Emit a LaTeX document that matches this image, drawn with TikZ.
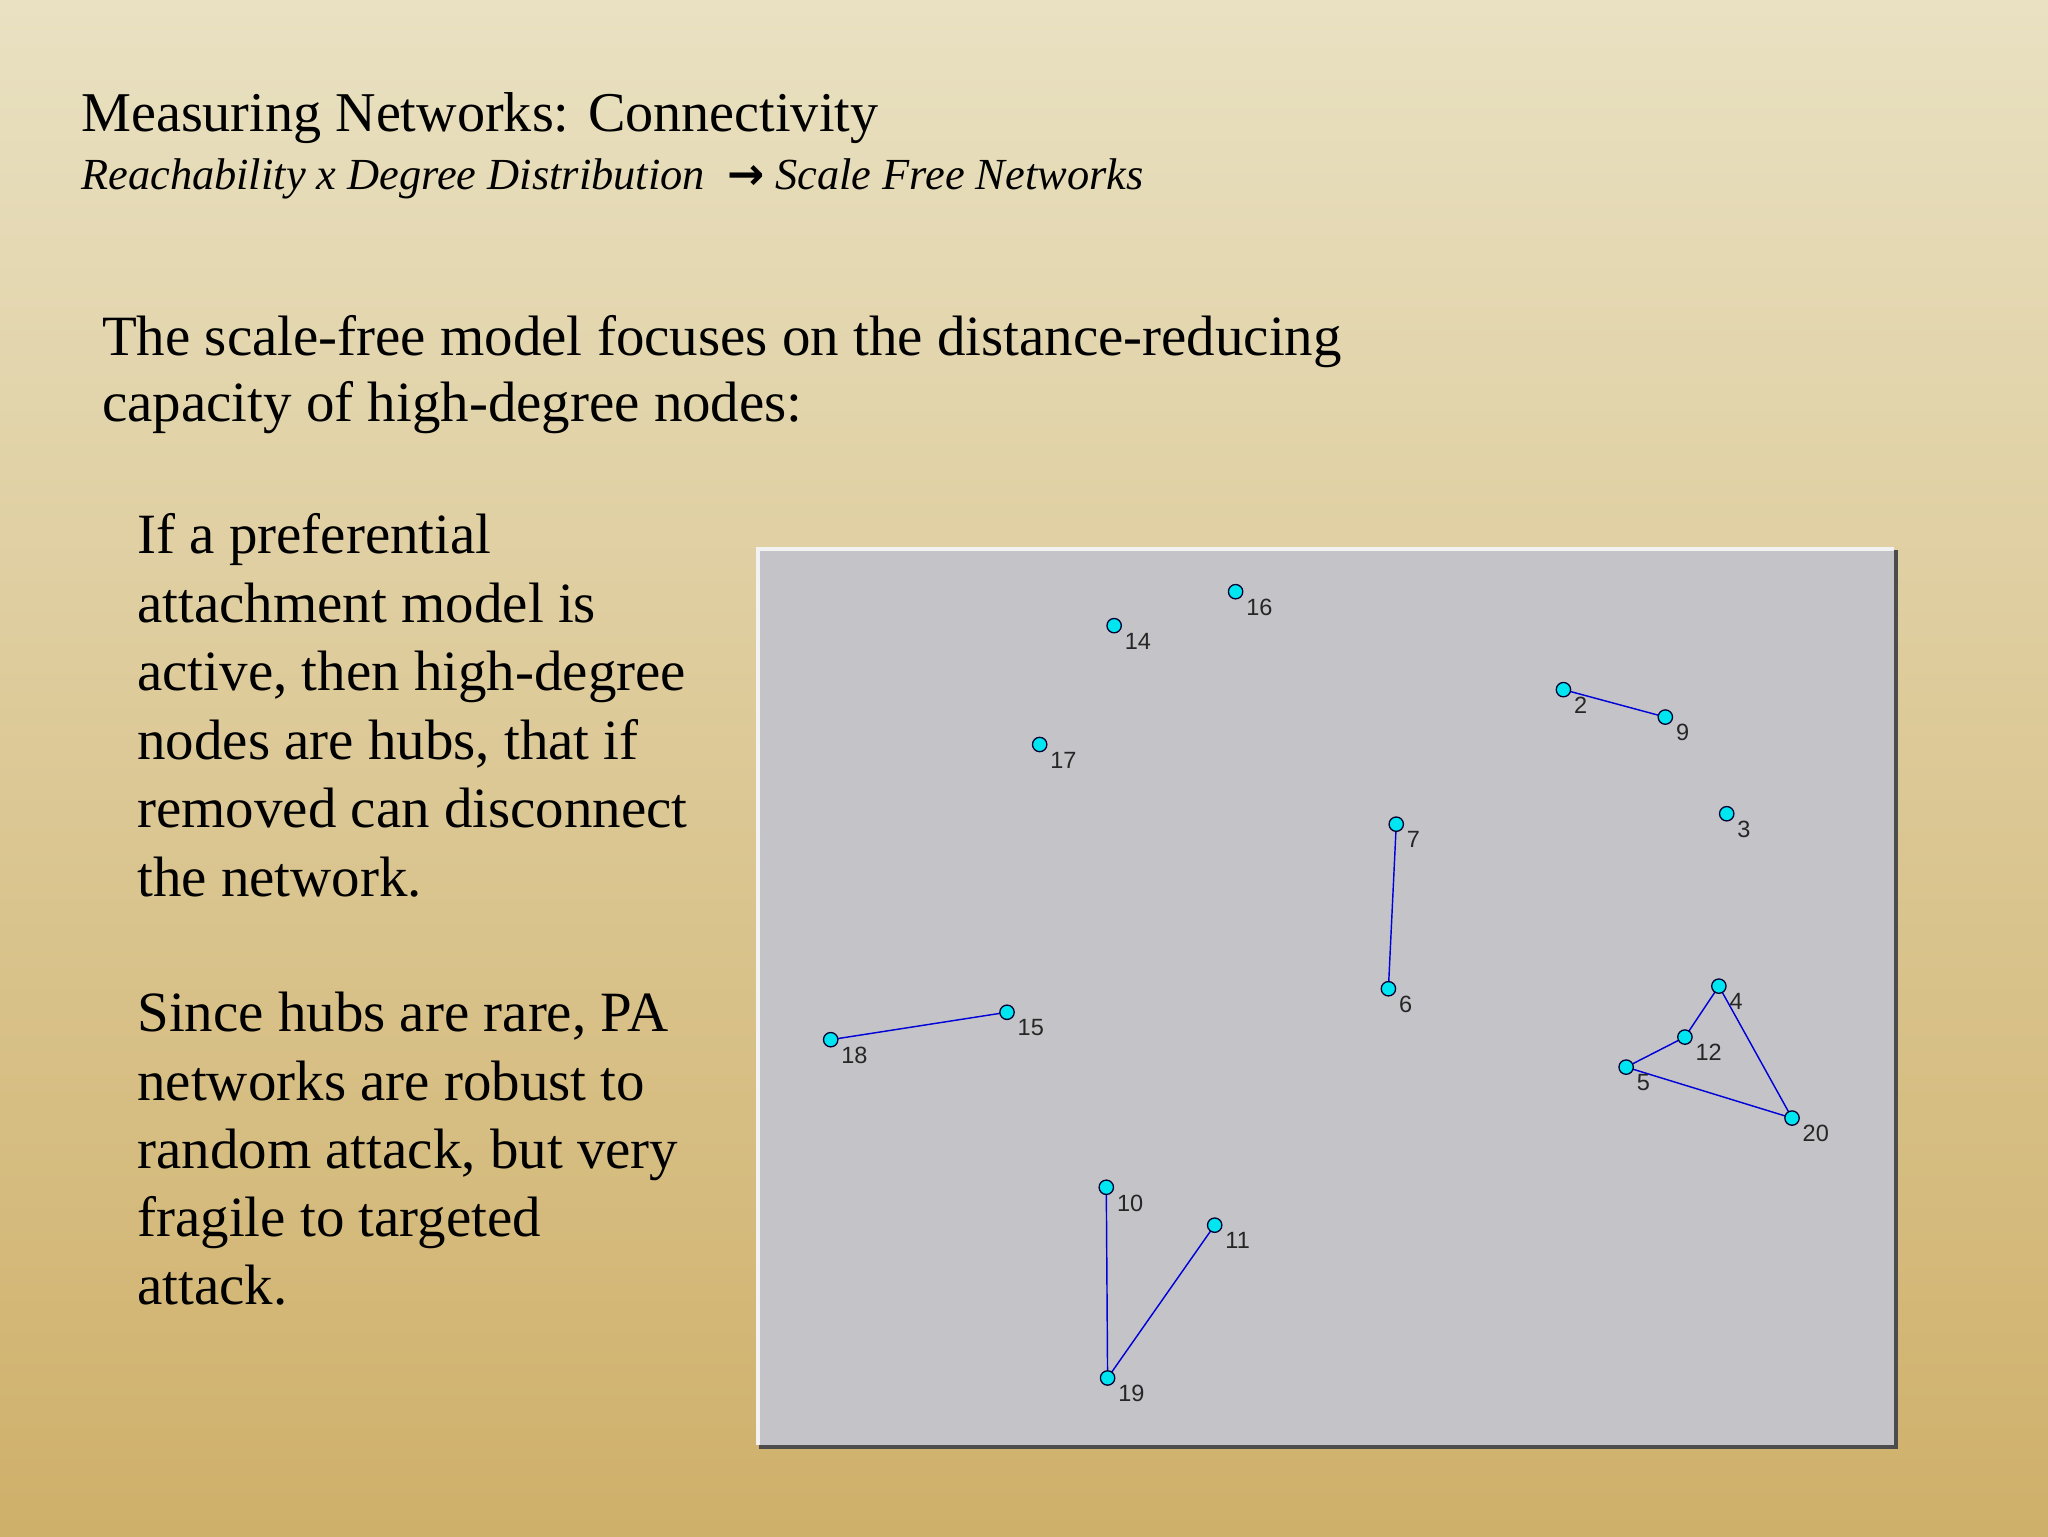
\documentclass[tikz,border=0pt]{standalone}
\usepackage{fontspec}
\setmainfont{Liberation Serif}
\newfontfamily\lblfont{Liberation Sans}
\newfontfamily\arrfont{DejaVu Sans}
\definecolor{bgtop}{RGB}{233,225,194}
\definecolor{bgbot}{RGB}{207,176,106}
\definecolor{panel}{RGB}{196,196,200}
\definecolor{vcyan}{RGB}{0,230,240}
\begin{document}
\begin{tikzpicture}[x=1pt,y=-1pt,
  vtx/.style={circle,draw=black!80!blue,fill=vcyan,inner sep=0pt,minimum size=11pt,line width=1pt},
  lbl/.style={anchor=west,font=\lblfont\fontsize{18}{18}\selectfont,text=black!85,inner sep=0pt},
  edge/.style={blue!85!black,line width=1.1pt},
  body/.style={anchor=base west,inner sep=0pt,font=\fontsize{43.6}{52}\selectfont}]
\shade[top color=bgtop,bottom color=bgbot] (0,0) rectangle (1568,1176);
\useasboundingbox (0,0) rectangle (1568,1176);
\node[anchor=base west,inner sep=0pt,font=\fontsize{43}{50}\selectfont] (t) at (62,101) {Measuring Networks: Connectivity};
\node[anchor=base west,inner sep=0pt,font=\itshape\fontsize{34}{40}\selectfont] (st) at (62,145) {Reachability x Degree Distribution \ {\upshape\arrfont\bfseries →} Scale Free Networks};
\node[body] (p1) at (78,272) {The scale-free model focuses on the distance-reducing};
\node[body] (p2) at (78,323) {capacity of high-degree nodes:};
\foreach \t [count=\i] in {If a preferential,attachment model is,{active, then high-degree},{nodes are hubs, that if},removed can disconnect,the network.}
  \node[body] (a\i) at (105,424+52.4*\i-52.4) {\t};
\foreach \t [count=\i] in {{Since hubs are rare, PA},networks are robust to,{random attack, but very},fragile to targeted,attack.}
  \node[body] (b\i) at (105,790+52.2*\i-52.2) {\t};
% panel
\fill[black!70] (581,421) rectangle (1453,1109);
\fill[white!90!gray] (579,419) rectangle (1450,1106);
\fill[panel] (582,422) rectangle (1450,1106);
\foreach \n/\x/\y in {16/946/453,14/853/479,2/1197/528,9/1275/549,17/796/570,3/1322/623,7/1069/631,6/1063/757,4/1316/755,12/1290/794,5/1245/817,20/1372/856,18/636/796,15/771/775,10/847/909,11/930/938,19/848/1055}
  \coordinate (c\n) at (\x,\y);
\foreach \u/\v in {2/9,7/6,4/12,12/5,5/20,4/20,18/15,10/19,11/19}
  \draw[edge] (c\u) -- (c\v);
\foreach \n in {16,14,2,9,17,3,7,6,4,12,5,20,18,15,10,11,19}{
  \node[vtx] (n\n) at (c\n) {};
  \node[lbl] (l\n) at ([xshift=8pt,yshift=-12pt]c\n) {\n};
}
\end{tikzpicture}
\end{document}
